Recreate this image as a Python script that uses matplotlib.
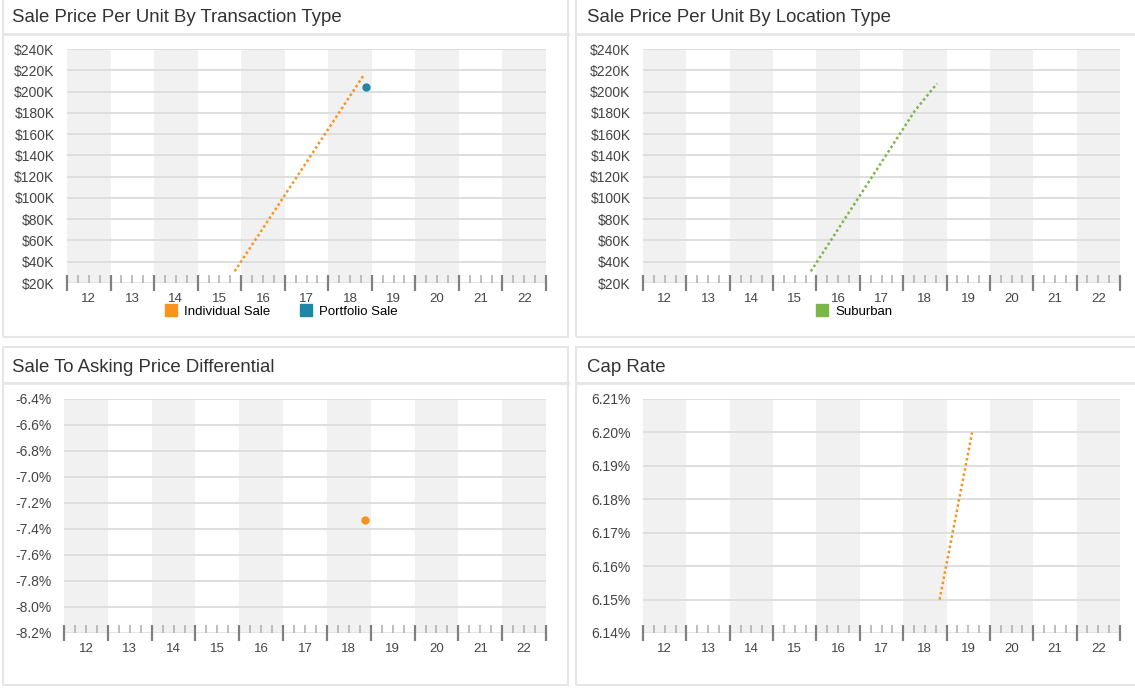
import matplotlib
matplotlib.use("Agg")
import matplotlib.pyplot as plt
from matplotlib.patches import Rectangle
from matplotlib.lines import Line2D
from matplotlib.ticker import FuncFormatter, MultipleLocator

plt.rcParams["font.family"] = ["Liberation Sans", "DejaVu Sans"]

# years shown on every x axis (20xx)
years = list(range(12, 23))
year_labels = [str(y) for y in years]

# sale price per unit by transaction type
individual_x = [15.85, 18.80]
individual_y = [31000, 214500]
portfolio_x = [18.86]
portfolio_y = [204000]

# sale price per unit by location type
suburban_x = [15.87, 18.27, 18.78]
suburban_y = [31000, 182000, 207500]

# sale to asking price differential (%)
diff_x = [18.87]
diff_y = [-7.33]

# cap rate (%)
cap_x = [18.84, 19.59]
cap_y = [6.15, 6.20]

price_ticks = list(range(20000, 240001, 20000))
diff_ticks = [-8.2, -8.0, -7.8, -7.6, -7.4, -7.2, -7.0, -6.8, -6.6, -6.4]
cap_ticks = [6.14, 6.15, 6.16, 6.17, 6.18, 6.19, 6.20, 6.21]

ORANGE = "#f7931e"
BLUE = "#1f87a6"
GREEN = "#7ab648"
BAND = "#f1f1f1"
GRID = "#dcdcdc"
BORDER = "#e6e6e6"

W, H = 1135, 689
fig = plt.figure(figsize=(W / 100, H / 100), dpi=100)


def px_axes(x0, y0, x1, y1):
    return fig.add_axes([x0 / W, 1 - y1 / H, (x1 - x0) / W, (y1 - y0) / H])


def card(x0, y0, x1, y1, sep, title, tx):
    fig.add_artist(Rectangle((x0 / W, 1 - y1 / H), (x1 - x0) / W, (y1 - y0) / H,
                             transform=fig.transFigure, fill=False,
                             edgecolor=BORDER, lw=1.5))
    fig.add_artist(Line2D([x0 / W, x1 / W], [1 - sep / H, 1 - sep / H],
                          transform=fig.transFigure, color=BORDER, lw=2))
    fig.text(tx / W, 1 - (sep - 16) / H, title, fontsize=13.4, color="#333333",
             va="center", ha="left")


def style_axes(ax, ticks, fmt):
    ax.set_xlim(12, 23)
    ax.set_ylim(ticks[0], ticks[-1])
    for y in years:
        if y % 2 == 0:
            ax.axvspan(y, y + 1, color=BAND, lw=0, zorder=0)
    for t in ticks[1:]:
        ax.axhline(t, color=GRID, lw=1.3, zorder=1)
    ax.axhline(ticks[0], color="#e2e2e2", lw=1.3, zorder=1)
    for s in ax.spines.values():
        s.set_visible(False)
    ax.set_yticks(ticks)
    ax.yaxis.set_major_formatter(FuncFormatter(fmt))
    ax.tick_params(axis="y", length=0, pad=9, labelsize=10, labelcolor="#444444")
    # tick marks: year boundaries and quarters
    ax.set_xticks(range(12, 24))
    ax.xaxis.set_minor_locator(MultipleLocator(0.25))
    ax.tick_params(axis="x", which="major", direction="inout", length=12,
                   width=1.6, color="#808080", labelbottom=False)
    ax.tick_params(axis="x", which="minor", direction="in", length=5.5,
                   width=1.2, color="#b3b3b3")
    # year labels centred in each band
    sec = ax.secondary_xaxis("bottom")
    sec.set_xticks([y + 0.5 for y in years], year_labels)
    sec.tick_params(length=0, pad=7, labelsize=9.5, labelcolor="#444444")
    sec.spines["bottom"].set_visible(False)


def dotted(ax, x, y, color):
    ax.plot(x, y, color=color, lw=1.8, linestyle=(0, (1, 1.1)), zorder=3)


price_fmt = lambda v, p: f"${int(v / 1000)}K"

# top left
card(3, -5, 568, 337, 34, "Sale Price Per Unit By Transaction Type", 12)
ax1 = px_axes(67, 49, 546, 283)
style_axes(ax1, price_ticks, price_fmt)
dotted(ax1, individual_x, individual_y, ORANGE)
ax1.plot(portfolio_x, portfolio_y, "o", color=BLUE, ms=5, zorder=4)
h1 = [Line2D([], [], marker="s", ls="", color=ORANGE, ms=8.5, label="Individual Sale"),
      Line2D([], [], marker="s", ls="", color=BLUE, ms=8.5, label="Portfolio Sale")]
ax1.legend(handles=h1, loc="center", bbox_to_anchor=(0.447, -0.122), ncol=2,
           frameon=False, fontsize=9.5, handletextpad=0.5, columnspacing=2.2,
           handlelength=1.0, borderaxespad=0, borderpad=0)

# top right
card(576, -5, 1140, 337, 34, "Sale Price Per Unit By Location Type", 587)
ax2 = px_axes(643, 49, 1120, 283)
style_axes(ax2, price_ticks, price_fmt)
dotted(ax2, suburban_x, suburban_y, GREEN)
h2 = [Line2D([], [], marker="s", ls="", color=GREEN, ms=8.5, label="Suburban")]
ax2.legend(handles=h2, loc="center", bbox_to_anchor=(0.442, -0.122), ncol=1,
           frameon=False, fontsize=9.5, handletextpad=0.5, handlelength=1.0,
           borderaxespad=0, borderpad=0)

# bottom left
card(3, 347, 568, 685, 383, "Sale To Asking Price Differential", 12)
ax3 = px_axes(64, 399, 546, 633)
style_axes(ax3, diff_ticks, lambda v, p: f"{v:.1f}%")
ax3.plot(diff_x, diff_y, "o", color=ORANGE, ms=5, zorder=4)

# bottom right
card(576, 347, 1140, 685, 383, "Cap Rate", 587)
ax4 = px_axes(643, 399, 1120, 633)
style_axes(ax4, cap_ticks, lambda v, p: f"{v:.2f}%")
dotted(ax4, cap_x, cap_y, ORANGE)

fig.savefig("out.png", dpi=100, facecolor="white")
